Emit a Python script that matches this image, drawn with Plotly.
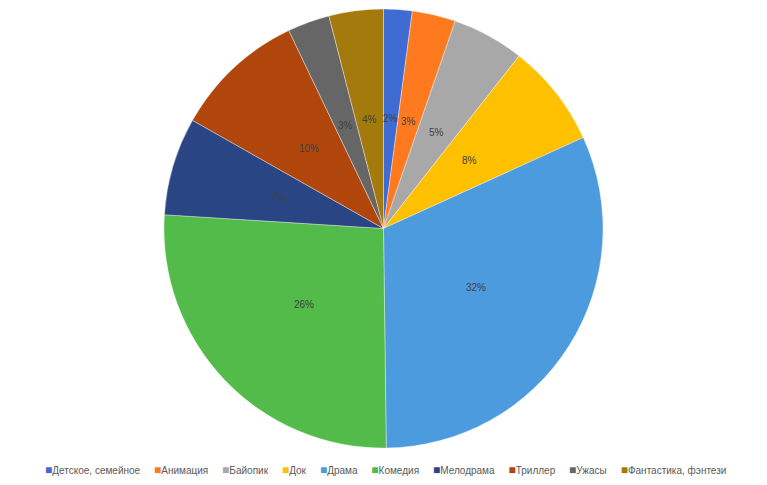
import math
import plotly.graph_objects as go

categories = ["Детское, семейное", "Анимация", "Байопик", "Док", "Драма",
              "Комедия", "Мелодрама", "Триллер", "Ужасы", "Фантастика, фэнтези"]
values = [2.1, 3.2, 5.3, 7.6, 31.6, 26.2, 7.2, 9.7, 3.1, 4.0]
colors = ["#3F6CD2", "#FF7A1F", "#A8A8A8", "#FFC000", "#4C9BDF",
          "#52BB49", "#2A4583", "#B0460C", "#666666", "#A57A0C"]

W, H = 767, 485
OFF = 8  # page body margin offset
pie_top, pie_bottom = 9 - OFF, 448 - OFF
pie_cx = 383.5 - OFF
dom_y = [1 - pie_bottom / H, 1 - pie_top / H]
dom_x = [0, 2 * pie_cx / W]

fig = go.Figure(go.Pie(
    labels=categories,
    values=values,
    sort=False,
    direction="clockwise",
    rotation=0,
    marker=dict(colors=colors, line=dict(color="rgba(255,255,255,0.6)", width=0.6)),
    textinfo="none",
    hoverinfo="label+percent",
    domain=dict(x=dom_x, y=dom_y),
))

# percentage labels at half radius, derived from the data
total = sum(values)
cx, cy = pie_cx / W, (dom_y[0] + dom_y[1]) / 2
r_px = (pie_bottom - pie_top) / 2
cum = 0.0
annotations = []
for v in values:
    mid = (cum + v / 2) / total * 2 * math.pi
    cum += v
    dx = 0.5 * r_px * math.sin(mid) / W
    dy = 0.5 * r_px * math.cos(mid) / H
    annotations.append(dict(
        x=cx + dx, y=cy + dy, xref="paper", yref="paper",
        xanchor="center", yanchor="middle",
        text=f"{round(v / total * 100)}%", showarrow=False,
        font=dict(family="Liberation Sans, Arial, sans-serif", size=10, color="#404040"),
    ))

# legend row
nb = "\u00a0"
parts = []
for c, lab in zip(colors, categories):
    parts.append(f"<span style='color:{c};font-size:12px'>■</span>{lab}")
legend_text = (nb * 5).join(parts)
annotations.append(dict(
    x=(385 - OFF) / W, y=1 - (470 - OFF) / H, xref="paper", yref="paper",
    xanchor="center", yanchor="middle", showarrow=False,
    text=legend_text,
    font=dict(family="Liberation Sans, Arial, sans-serif", size=10, color="#595959"),
))

fig.update_layout(
    width=W, height=H,
    margin=dict(l=0, r=0, t=0, b=0),
    paper_bgcolor="white",
    showlegend=False,
    annotations=annotations,
)

fig.write_html("out.html")
